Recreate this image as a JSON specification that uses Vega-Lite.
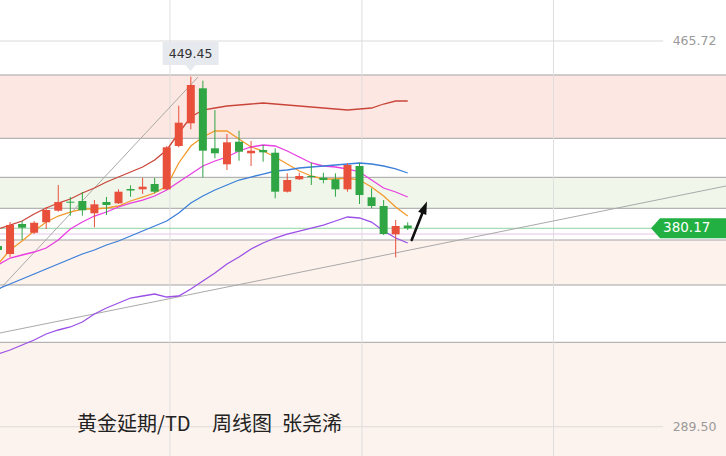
{
  "$schema": "https://vega.github.io/schema/vega-lite/v6.json",
  "width": 726,
  "height": 456,
  "autosize": {"type": "none"},
  "padding": 0,
  "background": "#ffffff",
  "config": {"view": {"stroke": null}, "scale": {"continuousPadding": 0}},
  "resolve": {"scale": {"color": "independent"}},
  "datasets": {
    "candles": [
      {"i": 0, "o": 372.07, "h": 373.44, "l": 368.87, "c": 370.24},
      {"i": 1, "o": 368.42, "h": 383.03, "l": 367.04, "c": 381.66},
      {"i": 2, "o": 382.12, "h": 383.49, "l": 374.81, "c": 380.43},
      {"i": 3, "o": 378.15, "h": 383.49, "l": 377.55, "c": 382.71},
      {"i": 4, "o": 382.90, "h": 389.89, "l": 379.84, "c": 388.52},
      {"i": 5, "o": 388.20, "h": 399.94, "l": 387.74, "c": 392.17},
      {"i": 6, "o": 392.31, "h": 394.45, "l": 385.91, "c": 391.85},
      {"i": 7, "o": 392.63, "h": 396.74, "l": 385.91, "c": 388.38},
      {"i": 8, "o": 387.01, "h": 393.08, "l": 380.61, "c": 391.12},
      {"i": 9, "o": 392.17, "h": 394.45, "l": 386.23, "c": 390.80},
      {"i": 10, "o": 391.58, "h": 397.97, "l": 391.26, "c": 396.88},
      {"i": 11, "o": 398.11, "h": 399.80, "l": 394.59, "c": 397.42},
      {"i": 12, "o": 397.97, "h": 403.27, "l": 395.83, "c": 399.16},
      {"i": 13, "o": 400.39, "h": 403.13, "l": 396.15, "c": 396.88},
      {"i": 14, "o": 397.97, "h": 417.75, "l": 397.65, "c": 417.16},
      {"i": 15, "o": 417.75, "h": 436.16, "l": 417.16, "c": 428.40},
      {"i": 16, "o": 428.12, "h": 449.45, "l": 425.38, "c": 445.62},
      {"i": 17, "o": 444.11, "h": 447.58, "l": 403.45, "c": 415.61},
      {"i": 18, "o": 416.70, "h": 434.20, "l": 412.13, "c": 414.42},
      {"i": 19, "o": 409.39, "h": 423.23, "l": 406.79, "c": 419.44},
      {"i": 20, "o": 419.72, "h": 424.74, "l": 411.04, "c": 415.15},
      {"i": 21, "o": 414.42, "h": 420.04, "l": 408.62, "c": 415.61},
      {"i": 22, "o": 415.93, "h": 418.21, "l": 410.58, "c": 414.87},
      {"i": 23, "o": 414.69, "h": 416.70, "l": 393.86, "c": 396.88},
      {"i": 24, "o": 396.88, "h": 405.28, "l": 396.51, "c": 402.22},
      {"i": 25, "o": 402.54, "h": 405.56, "l": 402.22, "c": 404.05},
      {"i": 26, "o": 404.05, "h": 410.12, "l": 399.94, "c": 403.59},
      {"i": 27, "o": 403.27, "h": 405.56, "l": 400.71, "c": 402.22},
      {"i": 28, "o": 402.54, "h": 405.28, "l": 394.59, "c": 397.97},
      {"i": 29, "o": 397.97, "h": 409.85, "l": 396.88, "c": 409.07},
      {"i": 30, "o": 408.62, "h": 410.12, "l": 391.26, "c": 395.37},
      {"i": 31, "o": 394.32, "h": 398.43, "l": 389.29, "c": 390.34},
      {"i": 32, "o": 390.34, "h": 393.08, "l": 377.09, "c": 377.55},
      {"i": 33, "o": 377.41, "h": 383.95, "l": 366.91, "c": 381.21},
      {"i": 34, "o": 381.44, "h": 382.90, "l": 379.38, "c": 380.17}
    ],
    "ma": [
      {"s": "upper", "i": 0, "p": 379.84}, {"s": "upper", "i": 1, "p": 381.66}, {"s": "upper", "i": 2, "p": 383.49}, {"s": "upper", "i": 3, "p": 386.69}, {"s": "upper", "i": 4, "p": 389.43}, {"s": "upper", "i": 5, "p": 391.71}, {"s": "upper", "i": 6, "p": 393.54}, {"s": "upper", "i": 7, "p": 396.28}, {"s": "upper", "i": 8, "p": 398.57}, {"s": "upper", "i": 9, "p": 401.31}, {"s": "upper", "i": 10, "p": 403.59}, {"s": "upper", "i": 11, "p": 405.88}, {"s": "upper", "i": 12, "p": 408.16}, {"s": "upper", "i": 13, "p": 411.36}, {"s": "upper", "i": 14, "p": 415.93}, {"s": "upper", "i": 15, "p": 423.69}, {"s": "upper", "i": 16, "p": 431.00}, {"s": "upper", "i": 17, "p": 434.20}, {"s": "upper", "i": 18, "p": 435.11}, {"s": "upper", "i": 19, "p": 436.03}, {"s": "upper", "i": 20, "p": 436.48}, {"s": "upper", "i": 21, "p": 436.94}, {"s": "upper", "i": 22, "p": 437.40}, {"s": "upper", "i": 23, "p": 436.94}, {"s": "upper", "i": 24, "p": 436.48}, {"s": "upper", "i": 25, "p": 436.03}, {"s": "upper", "i": 26, "p": 435.57}, {"s": "upper", "i": 27, "p": 435.11}, {"s": "upper", "i": 28, "p": 434.66}, {"s": "upper", "i": 29, "p": 434.20}, {"s": "upper", "i": 30, "p": 434.66}, {"s": "upper", "i": 31, "p": 435.11}, {"s": "upper", "i": 32, "p": 436.94}, {"s": "upper", "i": 33, "p": 438.31}, {"s": "upper", "i": 34, "p": 438.31},
      {"s": "ma5", "i": 0, "p": 363.85}, {"s": "ma5", "i": 1, "p": 370.24}, {"s": "ma5", "i": 2, "p": 374.35}, {"s": "ma5", "i": 3, "p": 378.92}, {"s": "ma5", "i": 4, "p": 383.03}, {"s": "ma5", "i": 5, "p": 385.77}, {"s": "ma5", "i": 6, "p": 387.60}, {"s": "ma5", "i": 7, "p": 388.97}, {"s": "ma5", "i": 8, "p": 388.97}, {"s": "ma5", "i": 9, "p": 389.43}, {"s": "ma5", "i": 10, "p": 390.34}, {"s": "ma5", "i": 11, "p": 392.63}, {"s": "ma5", "i": 12, "p": 394.45}, {"s": "ma5", "i": 13, "p": 396.28}, {"s": "ma5", "i": 14, "p": 399.48}, {"s": "ma5", "i": 15, "p": 409.99}, {"s": "ma5", "i": 16, "p": 417.75}, {"s": "ma5", "i": 17, "p": 421.86}, {"s": "ma5", "i": 18, "p": 424.61}, {"s": "ma5", "i": 19, "p": 424.61}, {"s": "ma5", "i": 20, "p": 420.95}, {"s": "ma5", "i": 21, "p": 417.30}, {"s": "ma5", "i": 22, "p": 415.47}, {"s": "ma5", "i": 23, "p": 412.73}, {"s": "ma5", "i": 24, "p": 409.53}, {"s": "ma5", "i": 25, "p": 406.33}, {"s": "ma5", "i": 26, "p": 404.05}, {"s": "ma5", "i": 27, "p": 402.68}, {"s": "ma5", "i": 28, "p": 402.68}, {"s": "ma5", "i": 29, "p": 403.13}, {"s": "ma5", "i": 30, "p": 402.22}, {"s": "ma5", "i": 31, "p": 399.02}, {"s": "ma5", "i": 32, "p": 394.91}, {"s": "ma5", "i": 33, "p": 389.89}, {"s": "ma5", "i": 34, "p": 385.77},
      {"s": "ma10", "i": 0, "p": 363.39}, {"s": "ma10", "i": 1, "p": 366.59}, {"s": "ma10", "i": 2, "p": 367.96}, {"s": "ma10", "i": 3, "p": 369.33}, {"s": "ma10", "i": 4, "p": 371.16}, {"s": "ma10", "i": 5, "p": 374.81}, {"s": "ma10", "i": 6, "p": 379.84}, {"s": "ma10", "i": 7, "p": 383.03}, {"s": "ma10", "i": 8, "p": 385.77}, {"s": "ma10", "i": 9, "p": 387.60}, {"s": "ma10", "i": 10, "p": 389.89}, {"s": "ma10", "i": 11, "p": 391.71}, {"s": "ma10", "i": 12, "p": 393.08}, {"s": "ma10", "i": 13, "p": 394.91}, {"s": "ma10", "i": 14, "p": 397.65}, {"s": "ma10", "i": 15, "p": 401.31}, {"s": "ma10", "i": 16, "p": 404.96}, {"s": "ma10", "i": 17, "p": 408.62}, {"s": "ma10", "i": 18, "p": 410.90}, {"s": "ma10", "i": 19, "p": 412.73}, {"s": "ma10", "i": 20, "p": 415.47}, {"s": "ma10", "i": 21, "p": 417.30}, {"s": "ma10", "i": 22, "p": 418.21}, {"s": "ma10", "i": 23, "p": 417.75}, {"s": "ma10", "i": 24, "p": 415.47}, {"s": "ma10", "i": 25, "p": 412.73}, {"s": "ma10", "i": 26, "p": 409.99}, {"s": "ma10", "i": 27, "p": 408.62}, {"s": "ma10", "i": 28, "p": 408.16}, {"s": "ma10", "i": 29, "p": 407.25}, {"s": "ma10", "i": 30, "p": 405.88}, {"s": "ma10", "i": 31, "p": 402.22}, {"s": "ma10", "i": 32, "p": 398.57}, {"s": "ma10", "i": 33, "p": 396.74}, {"s": "ma10", "i": 34, "p": 394.45},
      {"s": "ma20", "i": 0, "p": 352.43}, {"s": "ma20", "i": 1, "p": 354.71}, {"s": "ma20", "i": 2, "p": 356.99}, {"s": "ma20", "i": 3, "p": 359.28}, {"s": "ma20", "i": 4, "p": 361.56}, {"s": "ma20", "i": 5, "p": 363.85}, {"s": "ma20", "i": 6, "p": 366.13}, {"s": "ma20", "i": 7, "p": 368.42}, {"s": "ma20", "i": 8, "p": 370.24}, {"s": "ma20", "i": 9, "p": 372.53}, {"s": "ma20", "i": 10, "p": 374.35}, {"s": "ma20", "i": 11, "p": 376.64}, {"s": "ma20", "i": 12, "p": 378.92}, {"s": "ma20", "i": 13, "p": 381.21}, {"s": "ma20", "i": 14, "p": 383.49}, {"s": "ma20", "i": 15, "p": 387.15}, {"s": "ma20", "i": 16, "p": 391.71}, {"s": "ma20", "i": 17, "p": 394.91}, {"s": "ma20", "i": 18, "p": 397.65}, {"s": "ma20", "i": 19, "p": 399.94}, {"s": "ma20", "i": 20, "p": 402.22}, {"s": "ma20", "i": 21, "p": 403.59}, {"s": "ma20", "i": 22, "p": 404.96}, {"s": "ma20", "i": 23, "p": 406.33}, {"s": "ma20", "i": 24, "p": 406.79}, {"s": "ma20", "i": 25, "p": 407.70}, {"s": "ma20", "i": 26, "p": 408.16}, {"s": "ma20", "i": 27, "p": 408.62}, {"s": "ma20", "i": 28, "p": 409.07}, {"s": "ma20", "i": 29, "p": 409.53}, {"s": "ma20", "i": 30, "p": 409.99}, {"s": "ma20", "i": 31, "p": 409.53}, {"s": "ma20", "i": 32, "p": 408.62}, {"s": "ma20", "i": 33, "p": 407.25}, {"s": "ma20", "i": 34, "p": 405.42},
      {"s": "lower", "i": 0, "p": 322.73}, {"s": "lower", "i": 1, "p": 324.56}, {"s": "lower", "i": 2, "p": 326.84}, {"s": "lower", "i": 3, "p": 329.13}, {"s": "lower", "i": 4, "p": 331.87}, {"s": "lower", "i": 5, "p": 333.70}, {"s": "lower", "i": 6, "p": 335.07}, {"s": "lower", "i": 7, "p": 337.35}, {"s": "lower", "i": 8, "p": 341.01}, {"s": "lower", "i": 9, "p": 343.75}, {"s": "lower", "i": 10, "p": 346.03}, {"s": "lower", "i": 11, "p": 348.31}, {"s": "lower", "i": 12, "p": 349.23}, {"s": "lower", "i": 13, "p": 350.14}, {"s": "lower", "i": 14, "p": 348.77}, {"s": "lower", "i": 15, "p": 349.23}, {"s": "lower", "i": 16, "p": 352.43}, {"s": "lower", "i": 17, "p": 356.08}, {"s": "lower", "i": 18, "p": 359.74}, {"s": "lower", "i": 19, "p": 363.85}, {"s": "lower", "i": 20, "p": 367.04}, {"s": "lower", "i": 21, "p": 370.70}, {"s": "lower", "i": 22, "p": 373.44}, {"s": "lower", "i": 23, "p": 375.72}, {"s": "lower", "i": 24, "p": 377.55}, {"s": "lower", "i": 25, "p": 378.92}, {"s": "lower", "i": 26, "p": 380.29}, {"s": "lower", "i": 27, "p": 381.66}, {"s": "lower", "i": 28, "p": 383.49}, {"s": "lower", "i": 29, "p": 385.32}, {"s": "lower", "i": 30, "p": 384.86}, {"s": "lower", "i": 31, "p": 383.03}, {"s": "lower", "i": 32, "p": 378.92}, {"s": "lower", "i": 33, "p": 375.72}, {"s": "lower", "i": 34, "p": 373.44}
    ]
  },
  "layer": [
    {
      "data": {"values": [
        {"lo": 421.27, "hi": 450.19, "zone": "a"},
        {"lo": 389.29, "hi": 403.45, "zone": "b"},
        {"lo": 354.25, "hi": 374.81, "zone": "c"},
        {"lo": 276.14, "hi": 328.08, "zone": "d"}
      ]},
      "mark": {"type": "rect", "clip": true},
      "encoding": {
        "x": {"value": 0},
        "x2": {"value": "width"},
        "y": {"field": "lo", "type": "quantitative", "scale": {"domain": [276.14, 484.45], "nice": false, "zero": false, "padding": 0}, "axis": null},
        "y2": {"field": "hi"},
        "color": {"field": "zone", "type": "nominal", "scale": {"domain": ["a", "b", "c", "d"], "range": ["#fde7e2", "#f0f7ea", "#fdf2ec", "#fdf3ee"]}, "legend": null}
      }
    },
    {
      "data": {"values": [{"p": 450.19}, {"p": 421.27}, {"p": 403.45}, {"p": 389.29}, {"p": 374.81}, {"p": 354.25}, {"p": 328.08}]},
      "mark": {"type": "rule", "color": "#a3a3a3", "strokeWidth": 1},
      "encoding": {"y": {"field": "p", "type": "quantitative", "axis": null}}
    },
    {
      "data": {"values": [{"i": 14.27}, {"i": 30.2}, {"i": 46.1}]},
      "mark": {"type": "rule", "color": "#dedede", "strokeWidth": 1},
      "encoding": {"x": {"field": "i", "type": "quantitative", "scale": {"domain": [0.166, 60.41], "nice": false, "zero": false, "padding": 0}, "axis": null}}
    },
    {
      "data": {"values": [{"p": 465.72, "i0": 0.166, "i1": 55.2}, {"p": 289.5, "i0": 0.166, "i1": 55.2}]},
      "mark": {"type": "rule", "color": "#dadada", "strokeWidth": 1},
      "encoding": {
        "x": {"field": "i0", "type": "quantitative", "axis": null},
        "x2": {"field": "i1"},
        "y": {"field": "p", "type": "quantitative", "axis": null}
      }
    },
    {
      "data": {"values": [{"p": 380.17, "k": "last"}, {"p": 377.55, "k": "prev"}]},
      "mark": {"type": "rule", "strokeWidth": 1},
      "encoding": {
        "y": {"field": "p", "type": "quantitative", "axis": null},
        "color": {"field": "k", "type": "nominal", "scale": {"domain": ["last", "prev"], "range": ["#8ed49e", "#e6c5e8"]}, "legend": null}
      }
    },
    {
      "data": {"values": [
        {"i0": 0.166, "p0": 352.43, "i1": 16.6, "p1": 449.27},
        {"i0": 0.166, "p0": 332.33, "i1": 60.41, "p1": 399.48}
      ]},
      "mark": {"type": "rule", "color": "#a9a9a9", "strokeWidth": 1, "clip": true},
      "encoding": {
        "x": {"field": "i0", "type": "quantitative", "axis": null},
        "x2": {"field": "i1"},
        "y": {"field": "p0", "type": "quantitative", "axis": null},
        "y2": {"field": "p1"}
      }
    },
    {
      "data": {"name": "ma"},
      "mark": {"type": "line", "strokeWidth": 1.3, "clip": true},
      "encoding": {
        "x": {"field": "i", "type": "quantitative", "axis": null},
        "y": {"field": "p", "type": "quantitative", "axis": null},
        "color": {"field": "s", "type": "nominal", "scale": {"domain": ["upper", "ma5", "ma10", "ma20", "lower"], "range": ["#c9453a", "#f39a2c", "#e83de0", "#3b7fd9", "#9b50e6"]}, "legend": null}
      }
    },
    {
      "data": {"name": "candles"},
      "mark": {"type": "rule", "strokeWidth": 1, "clip": true},
      "encoding": {
        "x": {"field": "i", "type": "quantitative", "axis": null},
        "y": {"field": "l", "type": "quantitative", "axis": null},
        "y2": {"field": "h"},
        "color": {"condition": {"test": "datum.c >= datum.o", "value": "#e8503b"}, "value": "#2fa544"}
      }
    },
    {
      "data": {"name": "candles"},
      "mark": {"type": "bar", "width": 8, "clip": true},
      "encoding": {
        "x": {"field": "i", "type": "quantitative", "axis": null},
        "y": {"field": "o", "type": "quantitative", "axis": null},
        "y2": {"field": "c"},
        "color": {"condition": {"test": "datum.c >= datum.o", "value": "#e8503b"}, "value": "#2fa544"}
      }
    },
    {
      "data": {"values": [{"i0": 34.33, "p0": 374.81, "i1": 35.35, "p1": 389.02}]},
      "mark": {"type": "rule", "color": "#111111", "strokeWidth": 2.6, "strokeCap": "round"},
      "encoding": {
        "x": {"field": "i0", "type": "quantitative", "axis": null},
        "x2": {"field": "i1"},
        "y": {"field": "p0", "type": "quantitative", "axis": null},
        "y2": {"field": "p1"}
      }
    },
    {
      "data": {"values": [{"i": 35.35, "p": 389.02}]},
      "mark": {"type": "point", "shape": "M0,-1L0.55,0.6L-0.55,0.6Z", "angle": 22, "size": 256, "filled": true, "opacity": 1, "color": "#111111", "strokeWidth": 0},
      "encoding": {
        "x": {"field": "i", "type": "quantitative", "axis": null},
        "y": {"field": "p", "type": "quantitative", "axis": null}
      }
    },
    {
      "data": {"values": [{"i": 15.98, "p": 460.01, "t": "449.45"}]},
      "mark": {"type": "point", "shape": "M-1,-0.41L1,-0.41L1,0.41L0.18,0.41L0,0.625L-0.18,0.41L-1,0.41Z", "size": 3136, "filled": true, "opacity": 1, "color": "#e6e9ee", "strokeWidth": 0},
      "encoding": {
        "x": {"field": "i", "type": "quantitative", "axis": null},
        "y": {"field": "p", "type": "quantitative", "axis": null}
      }
    },
    {
      "data": {"values": [{"i": 15.98, "p": 460.01, "t": "449.45"}]},
      "mark": {"type": "text", "font": "DejaVu Sans", "fontSize": 12.5, "color": "#333333", "align": "center", "baseline": "middle"},
      "encoding": {
        "x": {"field": "i", "type": "quantitative", "axis": null},
        "y": {"field": "p", "type": "quantitative", "axis": null},
        "text": {"field": "t"}
      }
    },
    {
      "data": {"values": [{"i": 57.30, "p": 380.17, "t": "380.17"}]},
      "mark": {"type": "point", "shape": "M-1,0L-0.76,-0.2667L1,-0.2667L1,0.2667L-0.76,0.2667Z", "size": 5625, "filled": true, "opacity": 1, "color": "#22b043", "strokeWidth": 0},
      "encoding": {
        "x": {"field": "i", "type": "quantitative", "axis": null},
        "y": {"field": "p", "type": "quantitative", "axis": null}
      }
    },
    {
      "data": {"values": [{"i": 57.15, "p": 380.17, "t": "380.17"}]},
      "mark": {"type": "text", "font": "DejaVu Sans", "fontSize": 13.5, "color": "#ffffff", "align": "center", "baseline": "middle"},
      "encoding": {
        "x": {"field": "i", "type": "quantitative", "axis": null},
        "y": {"field": "p", "type": "quantitative", "axis": null},
        "text": {"field": "t"}
      }
    },
    {
      "data": {"values": [{"i": 57.8, "p": 465.72, "t": "465.72"}, {"i": 57.8, "p": 289.5, "t": "289.50"}]},
      "mark": {"type": "text", "font": "DejaVu Sans", "fontSize": 12.5, "color": "#9a9a9a", "align": "center", "baseline": "middle"},
      "encoding": {
        "x": {"field": "i", "type": "quantitative", "axis": null},
        "y": {"field": "p", "type": "quantitative", "axis": null},
        "text": {"field": "t"}
      }
    },
    {
      "data": {"values": [
        {"i": 6.56, "p": 290.3, "t": "黄金延期/TD"},
        {"i": 17.76, "p": 290.3, "t": "周线图"},
        {"i": 23.57, "p": 290.3, "t": "张尧浠"}
      ]},
      "mark": {"type": "text", "font": "Noto Sans CJK SC", "fontSize": 20, "color": "#222222", "align": "left", "baseline": "middle"},
      "encoding": {
        "x": {"field": "i", "type": "quantitative", "axis": null},
        "y": {"field": "p", "type": "quantitative", "axis": null},
        "text": {"field": "t"}
      }
    }
  ]
}
